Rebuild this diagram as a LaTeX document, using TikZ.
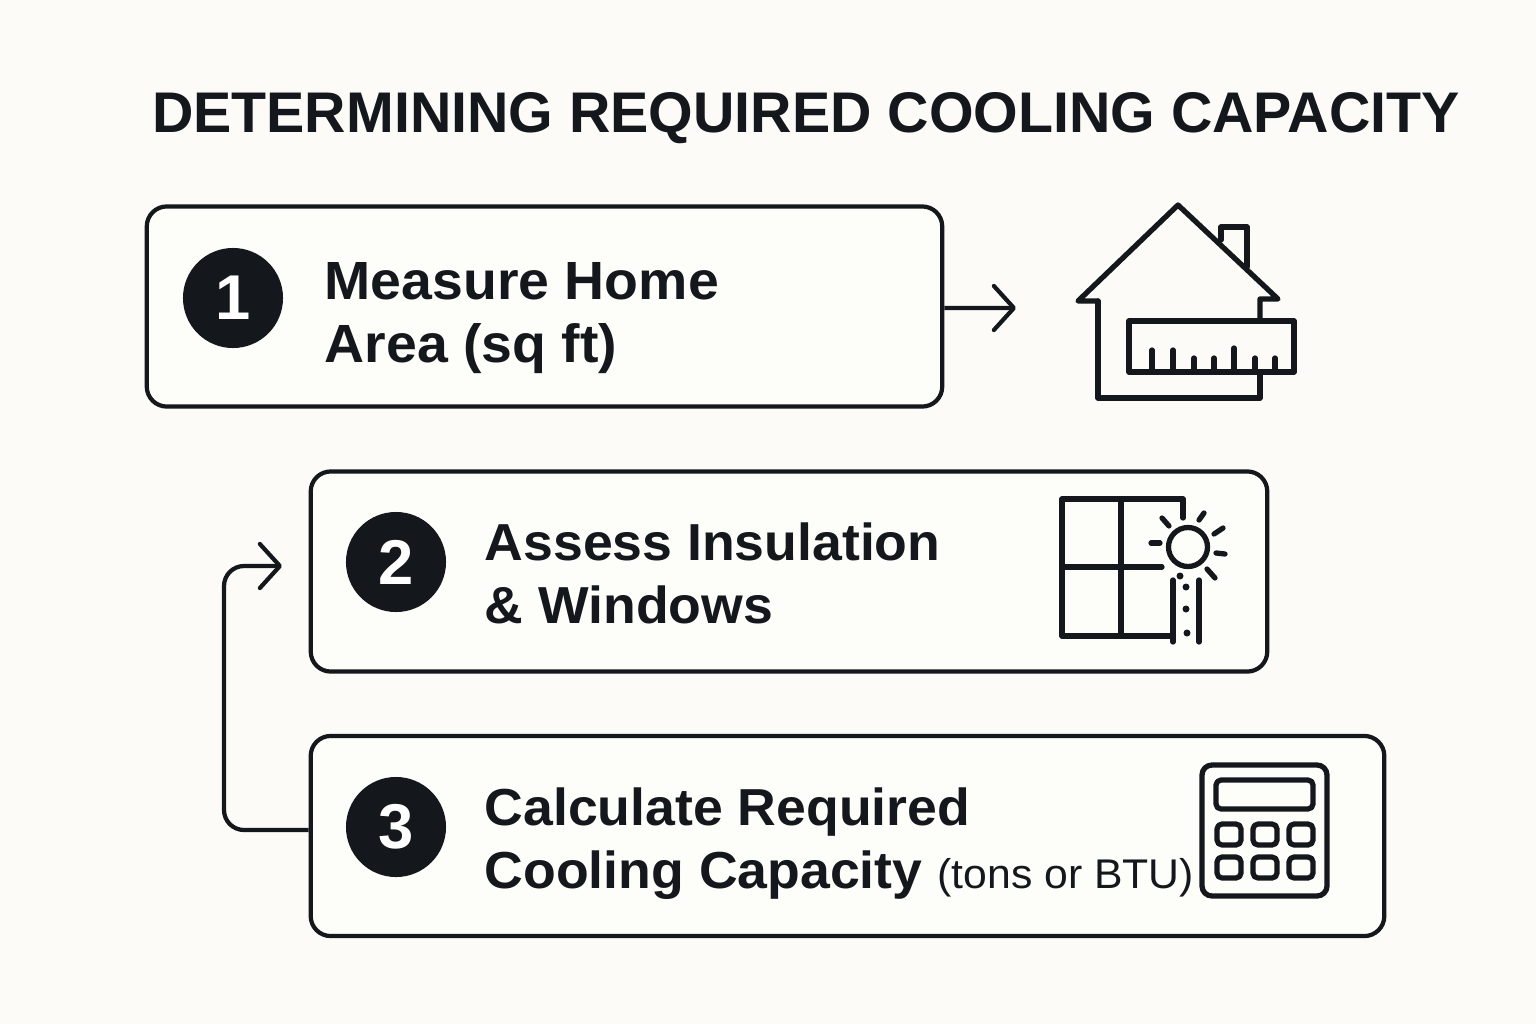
\documentclass[tikz,border=0pt]{standalone}
\usepackage{fontspec}
\setmainfont{Liberation Sans}
\newfontfamily\widefont[FakeStretch=1.03]{Liberation Sans}
\usetikzlibrary{arrows.meta}
\definecolor{ink}{HTML}{14181C}
\definecolor{paper}{HTML}{FCFBF7}
\tikzset{
   stepbox/.style={draw=ink, line width=1.2pt, fill=white!40!paper, rounded corners=0.2cm, minimum height=2.0cm, inner sep=0pt},
   badge/.style={circle, fill=ink, text=white, minimum size=1.0cm, inner sep=0pt, font=\fontsize{18}{20}\selectfont\bfseries},
   steptext/.style={anchor=west, align=left, inner sep=0pt, text=ink, font=\widefont\fontsize{14.8}{17.9}\selectfont\bfseries},
   flow/.style={draw=ink, line width=1.2pt, rounded corners=0.2cm, -{Straight Barb[length=0.2cm, width=0.44cm, line width=1.2pt, round]}},
   icon/.style={draw=ink, line width=1.5pt, line cap=round, line join=round},
}
\begin{document}
\begin{tikzpicture}[x=0.01cm, y=-0.01cm]%
   \useasboundingbox[fill=paper] (0,0) rectangle (1536,1024);
   \node (title) [anchor=center, inner sep=0pt, text=ink, font=\fontsize{16.3}{20}\selectfont\bfseries] at (806,118) {DETERMINING REQUIRED COOLING CAPACITY};

   % boxes
   \node (boxA) [stepbox, minimum width=7.95cm] at (544.5,306.5) {};
   \node (boxB) [stepbox, minimum width=9.56cm] at (789,571.5) {};
   \node (boxC) [stepbox, minimum width=10.73cm] at (847.5,836) {};
   \node (numA) [badge] at (233,298) {1};
   \node (numB) [badge] at (396,562) {2};
   \node (numC) [badge] at (396,827) {3};
   \node (textA) [steptext, font=\widefont\fontsize{15.3}{17.9}\selectfont\bfseries] at (324,318) {Measure Home\\Area (sq ft)};
   \node (textB) [steptext] at (484,573) {Assess Insulation\\\& Windows};
   \node (textC) [steptext] at (484,844) {Calculate Required\\Cooling Capacity {\fontsize{11.8}{14}\selectfont\mdseries (tons or BTU)}};

   % arrows
   \coordinate (tipA) at (1016,308);
   \coordinate (tipB) at (282,566);
   \draw[flow] ([yshift=-0.015cm]boxA.east) -- (tipA);
   \draw[flow] ([yshift=0.06cm]boxC.west) -- (224,830) -- (224,566) -- (tipB);

   % house
   \draw[icon] (1098,301) -- (1098,398) -- (1260,398) -- (1260,373);
   \draw[icon] (1098,301) -- (1078,301) -- (1178,205) -- (1278,299) -- (1260,299) -- (1260,321);
   \draw[icon] (1221,240) -- (1221,227) -- (1247,227) -- (1247,267);
   \draw[icon] (1129,321) rectangle (1294,372);
   \foreach \tx/\ty in {1152/350, 1173/350, 1194/358, 1214/358, 1234/348, 1255/358, 1275/358}
      \draw[icon] (\tx,\ty) -- (\tx,372);

   % window and sun
   \draw[icon] (1183,518) -- (1183,499) -- (1062,499) -- (1062,636) -- (1173,636);
   \draw[icon] (1121,499) -- (1121,636);
   \draw[icon] (1062,567) -- (1162,567);
   \draw[icon] (1173,580) -- (1173,642);
   \draw[icon] (1199,580) -- (1199,642);
   \draw[icon] (1188,547) circle (19.5);
   \foreach \ax/\ay/\bx/\by in {1162/518/1169/526, 1204/513/1199/520, 1223/528/1214/534, 1151/543/1160/543, 1216/553/1225/554, 1207/569/1215/578}
      \draw[icon] (\ax,\ay) -- (\bx,\by);
   \foreach \dx/\dy in {1180/576, 1186/587, 1186/609, 1187/633}
      \fill[ink] (\dx,\dy) circle (3.5);

   % calculator
   \draw[icon, rounded corners=0.1cm] (1202,765) rectangle (1327,896);
   \draw[icon, rounded corners=0.05cm] (1216,780) rectangle (1313,809);
   \foreach \bx in {1217, 1253, 1289}
      \foreach \by in {824, 857}
         \draw[icon, rounded corners=0.05cm] (\bx,\by) rectangle ++(24,21);
\end{tikzpicture}
\end{document}
